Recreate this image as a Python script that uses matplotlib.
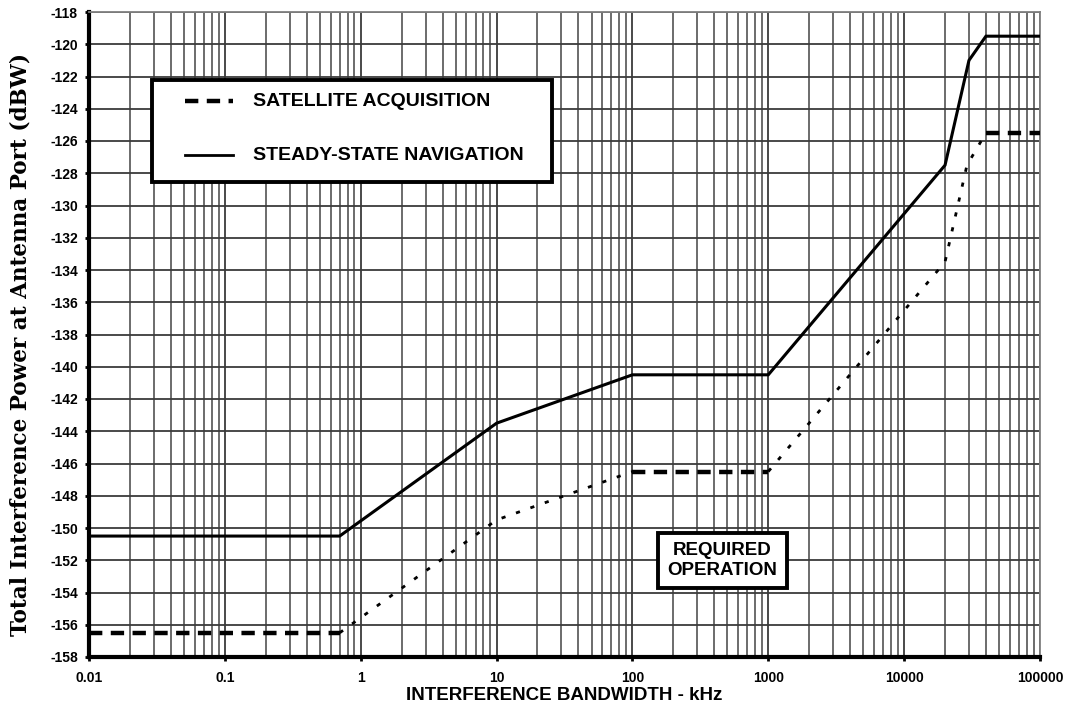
import matplotlib
matplotlib.use("Agg")
import matplotlib.pyplot as plt
from matplotlib.ticker import FixedLocator, FixedFormatter, LogLocator, NullFormatter
from matplotlib.patches import Rectangle
from matplotlib.lines import Line2D

plt.rcParams['axes.unicode_minus'] = False

# Data
nav_x = [0.01, 0.7, 10, 100, 1000, 20000, 30000, 40000, 100000]
nav_y = [-150.5, -150.5, -143.5, -140.5, -140.5, -127.5, -121.0, -119.5, -119.5]

sat_x = [0.01, 0.7, 10, 100, 1000, 20000, 29000, 40000, 100000]
sat_y = [-156.5, -156.5, -149.5, -146.5, -146.5, -133.5, -127.5, -125.5, -125.5]

series_labels = ["SATELLITE ACQUISITION", "STEADY-STATE NAVIGATION"]

x_ticks = [0.01, 0.1, 1, 10, 100, 1000, 10000, 100000]
x_tick_labels = ["0.01", "0.1", "1", "10", "100", "1000", "10000", "100000"]
y_ticks = list(range(-158, -117, 2))
y_tick_labels = [str(v) for v in y_ticks]

W, H = 1070, 711
fig = plt.figure(figsize=(W / 100, H / 100), dpi=100)
L, R, T, B = 89, 1040, 12, 657
ax = fig.add_axes([L / W, (H - B) / H, (R - L) / W, (B - T) / H])
ax.set_xscale('log')
ax.set_xlim(0.01, 100000)
ax.set_ylim(-158, -118)


def axpos(px, py):
    return ((px - L) / (R - L), (B - py) / (B - T))


# grid
ax.xaxis.set_major_locator(FixedLocator(x_ticks))
ax.xaxis.set_major_formatter(FixedFormatter(x_tick_labels))
ax.xaxis.set_minor_locator(LogLocator(base=10, subs=range(2, 10), numticks=20))
ax.xaxis.set_minor_formatter(NullFormatter())
ax.yaxis.set_major_locator(FixedLocator(y_ticks))
ax.yaxis.set_major_formatter(FixedFormatter(y_tick_labels))
ax.grid(True, which='major', axis='both', color='#3a3a3a', lw=1.3)
ax.grid(True, which='minor', axis='x', color='#606060', lw=1.3)
ax.set_axisbelow(True)

# series
nav_style = dict(color='black', lw=2.2)
flat_style = dict(color='black', lw=3.2, linestyle=(0, (3, 1.9)))
slope_style = dict(color='black', lw=2.0, linestyle=(0, (1.5, 4.0)))
ax.plot(nav_x, nav_y, solid_joinstyle='miter', zorder=3, **nav_style)
flat = [(0, 2), (3, 5), (7, 9)]
slope = [(1, 4), (4, 8)]
for a, b in flat:
    ax.plot(sat_x[a:b], sat_y[a:b], zorder=3, **flat_style)
for a, b in slope:
    ax.plot(sat_x[a:b], sat_y[a:b], zorder=3, **slope_style)

# manual legend box
x0, y0 = axpos(152, 182)
x1, y1 = axpos(552, 80)
ax.add_patch(Rectangle((x0, y0), x1 - x0, y1 - y0, transform=ax.transAxes,
                       fc='white', ec='black', lw=2.8, zorder=6))
rows = [101, 155]
hx0, _ = axpos(185, 0)
hx1, _ = axpos(233, 0)
tx, _ = axpos(253, 0)
styles = [dict(color='black', lw=3.2, linestyle=(0, (3, 1.9))), dict(color='black', lw=2.0)]
for ry, lab, st in zip(rows, series_labels, styles):
    _, yy = axpos(0, ry)
    ax.add_line(Line2D([hx0, hx1], [yy, yy], transform=ax.transAxes, zorder=7, **st))
    ax.text(tx, yy, lab, transform=ax.transAxes, ha='left', va='center',
            family='Liberation Sans', weight='bold', fontsize=14, zorder=7)

# required operation box
ax.text(460, -152, "REQUIRED\nOPERATION", ha='center', va='center',
        family='Liberation Sans', weight='bold', fontsize=13.5, linespacing=1.2,
        bbox=dict(boxstyle='square,pad=0.5', fc='white', ec='black', lw=2.8), zorder=5)

# axes styling
for s in ['top', 'right']:
    ax.spines[s].set_color('#808080')
    ax.spines[s].set_linewidth(1.3)
for s in ['left', 'bottom']:
    ax.spines[s].set_color('black')
    ax.spines[s].set_linewidth(3)
ax.tick_params(axis='both', which='major', direction='out', length=3, width=2,
               labelsize=10)
ax.tick_params(axis='x', which='major', pad=7)
ax.tick_params(axis='y', which='major', pad=5)
ax.tick_params(axis='x', which='minor', length=0)
for lbl in ax.get_xticklabels() + ax.get_yticklabels():
    lbl.set_family('Liberation Sans')
    lbl.set_weight('bold')

ax.set_xlabel("INTERFERENCE BANDWIDTH - kHz", family='Liberation Sans', weight='bold',
              fontsize=13.5)
ax.xaxis.set_label_coords(0.5, -(695 - B) / (B - T))
ax.xaxis.label.set_va('center')
ax.set_ylabel("Total Interference Power at Antenna Port (dBW)", family='DejaVu Serif',
              weight='bold', fontsize=15.5)
ax.yaxis.set_label_coords(-(L - 21) / (R - L), (B - 345) / (B - T))
ax.yaxis.label.set_va('center')

fig.savefig("out.png", dpi=100)
